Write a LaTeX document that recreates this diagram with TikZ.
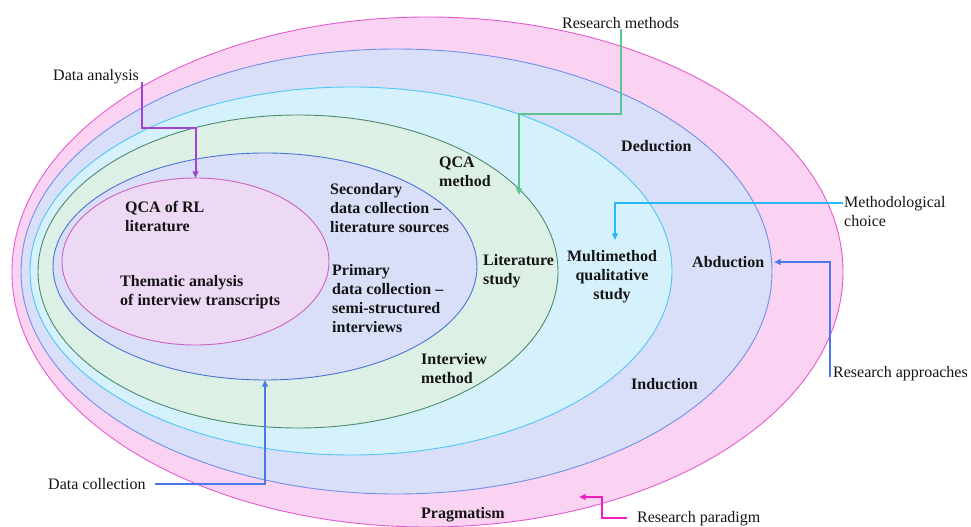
\documentclass[tikz,border=0pt]{standalone}
\usepackage{fontspec}
\setmainfont{Liberation Serif}
\usetikzlibrary{shapes.geometric,arrows.meta}

% layer fills and outlines
\definecolor{paradigmfill}{HTML}{FBD3F2}
\definecolor{paradigmline}{HTML}{E65ACF}
\definecolor{approachfill}{HTML}{D9DFF8}
\definecolor{approachline}{HTML}{7090E8}
\definecolor{choicefill}{HTML}{D4F1FC}
\definecolor{choiceline}{HTML}{50C6F4}
\definecolor{methodfill}{HTML}{DDF0E5}
\definecolor{methodline}{HTML}{4E8A6E}
\definecolor{collectfill}{HTML}{D9DFF8}
\definecolor{collectline}{HTML}{4A72D8}
\definecolor{analysisfill}{HTML}{EDD9F4}
\definecolor{analysisline}{HTML}{D060C0}
% connector colours
\definecolor{purplearrow}{HTML}{A044D0}
\definecolor{greenarrow}{HTML}{5CC48E}
\definecolor{cyanarrow}{HTML}{28B8F8}
\definecolor{bluearrow}{HTML}{4A78E8}
\definecolor{magentaarrow}{HTML}{F020C0}
\definecolor{ink}{HTML}{141414}

\begin{document}
\begin{tikzpicture}[x=1bp,y=-1bp,
  layer/.style={ellipse, inner sep=0pt, outer sep=0pt, line width=0.9bp},
  % multi-line nodes are placed by the baseline of their last line
  lbl/.style={font=\fontsize{16bp}{19.2bp}\selectfont\bfseries, text=ink,
              inner sep=0pt, anchor=base west, align=left},
  tag/.style={font=\fontsize{16bp}{19.2bp}\selectfont, text=ink,
              inner sep=0pt, anchor=base west, align=left},
  conn/.style={line width=2bp, -{Triangle[length=6.5bp,width=5.5bp]}},
]
\useasboundingbox (0,0) rectangle (971,527);

% nested layers, outermost first
\node[layer, fill=paradigmfill, draw=paradigmline,
      minimum width=831bp, minimum height=510bp] (paradigm) at (427.5,272) {};
\node[layer, fill=approachfill, draw=approachline,
      minimum width=751bp, minimum height=445bp] (approach) at (396.5,271.5) {};
\node[layer, fill=choicefill, draw=choiceline,
      minimum width=642bp, minimum height=368bp] (choice) at (351,271) {};
\node[layer, fill=methodfill, draw=methodline,
      minimum width=520bp, minimum height=313bp] (method) at (298,271.5) {};
\node[layer, fill=collectfill, draw=collectline,
      minimum width=424bp, minimum height=227bp] (collect) at (265,266.5) {};
\node[layer, fill=analysisfill, draw=analysisline,
      minimum width=267bp, minimum height=167bp] (analysis) at (195.5,261.5) {};

% labels inside the layers
\node[lbl] (qca) at (125,232) {QCA of RL\\literature};
\node[lbl] (thematic) at (120,306) {Thematic analysis\\of interview transcripts};
\node[lbl] (secondary) at (330,233) {Secondary\\data collection --\\literature sources};
\node[lbl] (primary) at (332,333) {Primary\\data collection --\\semi-structured\\interviews};
\node[lbl] (qcamethod) at (439,187) {QCA\\method};
\node[lbl] (litstudy) at (483,285) {Literature\\study};
\node[lbl] (intmethod) at (421,384) {Interview\\method};
\node[lbl, anchor=base, align=center] (multi) at (612,300) {Multimethod\\qualitative\\study};
\node[lbl] (deduction) at (621,152) {Deduction};
\node[lbl] (abduction) at (692,268) {Abduction};
\node[lbl] (induction) at (631,389) {Induction};
\node[lbl] (pragmatism) at (421,518) {Pragmatism};

% labels outside
\node[tag] (da) at (53,81) {Data analysis};
\node[tag] (rm) at (562,29) {Research methods};
\node[tag] (mc) at (844,227) {Methodological\\choice};
\node[tag] (ra) at (833,378) {Research approaches};
\node[tag] (rp) at (637,522) {Research paradigm};
\node[tag] (dc) at (48,489) {Data collection};

% connector bends and ends
\coordinate (daelbow) at (195.5,128);
\coordinate (rmelbow) at (519,114);
\coordinate (rmtip) at (519,195);
\coordinate (mcstart) at (843,203);
\coordinate (mctip) at (615,240);
\coordinate (rastart) at (830,377);
\coordinate (ratip) at (774,262);
\coordinate (dcstart) at (155,484);
\coordinate (rpstart) at (627,518);
\coordinate (rpelbow) at (602,497);
\coordinate (rptip) at (579,497);

% connectors
\draw[conn, purplearrow] ([xshift=3bp,yshift=-1bp]da.base east) |- (daelbow) -- (analysis.north);
\draw[conn, greenarrow] (rm.south) |- (rmelbow) -- (rmtip);
\draw[conn, cyanarrow] (mcstart) -| (mctip);
\draw[conn, bluearrow] (rastart) |- (ratip);
\draw[conn, bluearrow] (dcstart) -| (collect.south);
\draw[conn, magentaarrow] (rpstart) -| (rpelbow) -- (rptip);
\end{tikzpicture}
\end{document}
